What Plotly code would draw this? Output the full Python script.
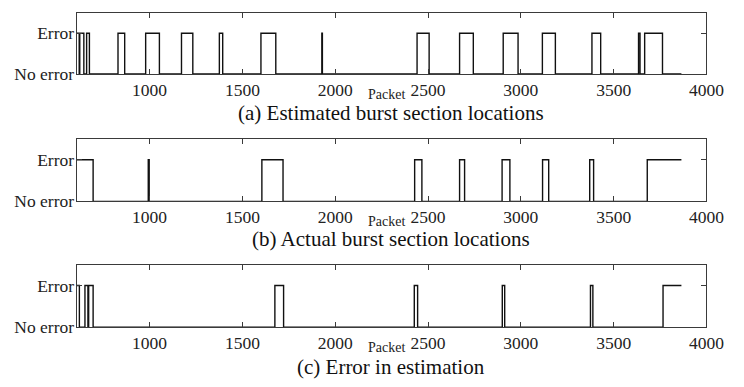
import plotly.graph_objects as go

# Error intervals (start packet, end packet) for each of the three traces
est_start = [607, 624, 661, 830, 979, 1172, 1376, 1600, 1928, 2441, 2670, 2905, 3116, 3383, 3634, 3667]
est_end = [621, 646, 676, 866, 1053, 1233, 1394, 1680, 1931, 2506, 2744, 2985, 3186, 3430, 3642, 3763]

act_start = [607, 993, 1605, 2428, 2670, 2899, 3117, 3371, 3681]
act_end = [696, 998, 1719, 2467, 2697, 2941, 3150, 3392, 3865]

err_start = [607, 652, 672, 1675, 2426, 2900, 3375, 3766]
err_end = [622, 668, 696, 1722, 2444, 2913, 3388, 3865]

first_packet = 607
last_packet = 3865

x_ticks = [1000, 1500, 2000, 2500, 3000, 3500, 4000]
y_ticks = [0, 1]
y_labels = ["No error", "Error"]

titles = [
    "(a) Estimated burst section locations",
    "(b) Actual burst section locations",
    "(c) Error in estimation",
]
x_label = "Packet"

W, H = 744, 387
FONT = "Liberation Serif, Times New Roman, Times, serif"


def step_signal(starts, ends):
    """Turn error intervals into a 0/1 step signal over the packet index."""
    xs, ys = [], []
    if starts[0] > first_packet:
        xs.append(first_packet)
        ys.append(0)
    for s, e in zip(starts, ends):
        xs += [s, s, e, e]
        ys += [0, 1, 1, 0] if s > first_packet else [1, 1, 1, 0]
    if ends[-1] >= last_packet:
        xs, ys = xs[:-1], ys[:-1]
    else:
        xs.append(last_packet)
        ys.append(0)
    return xs, ys


panels = [(est_start, est_end), (act_start, act_end), (err_start, err_end)]

# plot-area boxes in pixels: (top, bottom)
boxes = [(13.3, 76.0), (142.7, 206.7), (271.7, 336.0)]
x_left, x_right = 78.5, 724.0
# label centres in pixels: (packet label y, title y)
label_y = [(97.0, 116.5), (227.0, 245.0), (357.0, 377.0)]

fig = go.Figure()
for i, ((s, e), (top, bot)) in enumerate(zip(panels, boxes)):
    n = "" if i == 0 else str(i + 1)
    xs, ys = step_signal(s, e)
    fig.add_trace(go.Scatter(
        x=xs, y=ys, mode="lines",
        line=dict(color="#111111", width=1.4),
        xaxis="x" + n, yaxis="y" + n, showlegend=False, hoverinfo="skip",
    ))
    axis_common = dict(
        showline=True, linecolor="#3a3a3a", linewidth=1, mirror="allticks",
        ticks="inside", ticklen=5, tickwidth=1, tickcolor="#3a3a3a",
        showgrid=False, zeroline=False,
        tickfont=dict(family=FONT, size=17.5, color="#222222"),
    )
    fig.layout["xaxis" + n] = dict(
        axis_common, domain=[x_left / W, x_right / W], range=[first_packet, 4000],
        tickvals=x_ticks, anchor="y" + n,
    )
    fig.layout["yaxis" + n] = dict(
        axis_common, domain=[1 - bot / H, 1 - top / H], range=[0, 1.5],
        tickvals=y_ticks, ticktext=y_labels, anchor="x" + n,
        ticklabelstandoff=-2,
    )
    py, ty = label_y[i]
    fig.add_annotation(
        text=x_label, x=396 / W, y=1 - py / H, xref="paper", yref="paper",
        showarrow=False, xanchor="center", yanchor="middle",
        font=dict(family=FONT, size=14, color="#222222"),
    )
    fig.add_annotation(
        text=titles[i], x=401 / W, y=1 - ty / H, xref="paper", yref="paper",
        showarrow=False, xanchor="center", yanchor="middle",
        font=dict(family=FONT, size=21, color="#111111"),
    )

fig.update_layout(
    width=W, height=H, margin=dict(l=0, r=0, t=0, b=0),
    paper_bgcolor="white", plot_bgcolor="white",
)
fig.write_html("out.html")
